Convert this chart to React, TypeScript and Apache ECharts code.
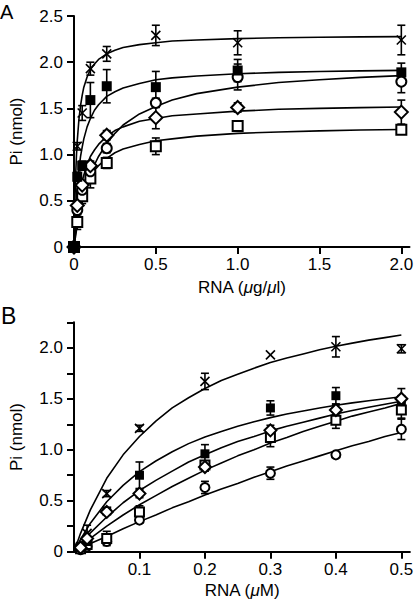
import React, { useEffect, useRef } from 'react';
import * as echarts from 'echarts';

const FONT = '"Liberation Sans", Arial, Helvetica, sans-serif';

// ---------- Panel A data (RNA µg/µl) ----------
const xA = [0, 0.02, 0.05, 0.1, 0.2, 0.5, 1.0, 2.0];
const crossA = [0, 1.09, 1.45, 1.93, 2.09, 2.29, 2.21, 2.24];
const crossAErr = [0, 0.04, 0.08, 0.07, 0.08, 0.11, 0.13, 0.16];
const filledA = [0, 0.76, 0.88, 1.59, 1.74, 1.73, 1.91, 1.89];
const filledAErr = [0, 0.05, 0.05, 0.19, 0.18, 0.17, 0.12, 0.1];
const circleA = [0, 0.4, 0.62, 0.82, 1.07, 1.56, 1.84, 1.79];
const circleAErr = [0, 0.05, 0, 0, 0.05, 0.05, 0.14, 0.12];
const diamondA = [0, 0.45, 0.67, 0.88, 1.21, 1.4, 1.51, 1.46];
const diamondAErr = [0, 0, 0.05, 0.05, 0.05, 0.12, 0.05, 0.13];
const squareA = [0, 0.27, 0.55, 0.74, 0.91, 1.09, 1.31, 1.27];
const squareAErr = [0, 0.08, 0.08, 0.1, 0.06, 0.09, 0.03, 0.03];

// fitted curves
const curveXA = [0, 0.005, 0.01, 0.015, 0.02, 0.03, 0.04, 0.05, 0.06, 0.08, 0.1, 0.125, 0.15, 0.2, 0.25, 0.3, 0.4, 0.5, 0.6, 0.75, 1.0, 1.25, 1.5, 1.75, 2.0];
const curveCrossA = [0, 0.46, 0.77, 0.99, 1.15, 1.38, 1.53, 1.64, 1.73, 1.84, 1.92, 1.98, 2.03, 2.09, 2.13, 2.16, 2.19, 2.21, 2.23, 2.24, 2.255, 2.264, 2.27, 2.274, 2.277];
const curveFilledA = [0, 0.22, 0.39, 0.53, 0.65, 0.84, 0.98, 1.08, 1.17, 1.3, 1.39, 1.48, 1.54, 1.63, 1.68, 1.72, 1.77, 1.81, 1.83, 1.85, 1.875, 1.89, 1.9, 1.906, 1.912];
const curveCircleA = [0, 0.06, 0.12, 0.18, 0.23, 0.32, 0.41, 0.49, 0.56, 0.68, 0.78, 0.89, 0.98, 1.12, 1.23, 1.32, 1.44, 1.52, 1.59, 1.66, 1.73, 1.78, 1.81, 1.836, 1.855];
const curveDiamondA = [0, 0.12, 0.22, 0.31, 0.39, 0.52, 0.62, 0.71, 0.78, 0.89, 0.98, 1.05, 1.11, 1.2, 1.26, 1.3, 1.36, 1.39, 1.42, 1.44, 1.47, 1.49, 1.5, 1.508, 1.515];
const curveSquareA = [0, 0.08, 0.16, 0.22, 0.28, 0.38, 0.46, 0.53, 0.59, 0.68, 0.75, 0.83, 0.88, 0.96, 1.02, 1.06, 1.11, 1.15, 1.17, 1.2, 1.23, 1.245, 1.257, 1.266, 1.272];

const xTicksA = [0, 0.5, 1.0, 1.5, 2.0];

// ---------- Panel B data (RNA µM) ----------
const xB = [0.01, 0.02, 0.05, 0.1, 0.2, 0.3, 0.4, 0.5];
const crossB = [0.05, 0.18, 0.57, 1.21, 1.67, 1.93, 2.01, 1.99];
const crossBErr = [0, 0.08, 0.03, 0.03, 0.08, 0, 0.1, 0.04];
const filledB = [0.04, 0.1, 0.4, 0.75, 0.96, 1.41, 1.53, 1.48];
const filledBErr = [0, 0, 0, 0.13, 0.09, 0.07, 0.08, 0.05];
const diamondB = [0.04, 0.13, 0.39, 0.57, 0.83, 1.19, 1.39, 1.5];
const diamondBErr = [0, 0, 0, 0.04, 0.04, 0.05, 0.05, 0.1];
const squareB = [0.03, 0.07, 0.13, 0.39, 0.85, 1.12, 1.29, 1.39];
const squareBErr = [0, 0.03, 0.07, 0.06, 0.04, 0.09, 0.08, 0.08];
const circleB = [0.02, 0.05, 0.1, 0.31, 0.63, 0.77, 0.95, 1.2];
const circleBErr = [0, 0, 0, 0.03, 0.06, 0.06, 0.02, 0.1];

const curveXB = [0, 0.01, 0.025, 0.05, 0.075, 0.1, 0.125, 0.15, 0.175, 0.2, 0.225, 0.25, 0.275, 0.3, 0.325, 0.35, 0.375, 0.4, 0.425, 0.45, 0.475, 0.5];
const curveCrossB = [0, 0.18, 0.41, 0.72, 0.95, 1.13, 1.28, 1.41, 1.51, 1.6, 1.68, 1.74, 1.8, 1.855, 1.9, 1.94, 1.98, 2.015, 2.046, 2.075, 2.1, 2.125];
const curveFilledB = [0, 0.12, 0.28, 0.49, 0.65, 0.785, 0.89, 0.98, 1.06, 1.125, 1.18, 1.23, 1.275, 1.315, 1.35, 1.38, 1.41, 1.436, 1.46, 1.48, 1.5, 1.52];
const curveDiamondB = [0, 0.08, 0.185, 0.34, 0.48, 0.6, 0.7, 0.79, 0.88, 0.95, 1.02, 1.08, 1.13, 1.185, 1.23, 1.27, 1.31, 1.35, 1.385, 1.417, 1.447, 1.475];
const curveSquareB = [0, 0.05, 0.13, 0.25, 0.36, 0.46, 0.55, 0.64, 0.72, 0.8, 0.87, 0.94, 1.0, 1.067, 1.12, 1.18, 1.23, 1.28, 1.33, 1.37, 1.41, 1.455];
const curveCircleB = [0, 0.03, 0.08, 0.15, 0.225, 0.295, 0.36, 0.43, 0.49, 0.555, 0.615, 0.67, 0.73, 0.784, 0.84, 0.89, 0.94, 0.99, 1.04, 1.08, 1.13, 1.17];

const xTicksB = [0.1, 0.2, 0.3, 0.4, 0.5];

// ---------- helpers ----------
const pairs = (xs: number[], ys: number[]) => xs.map((x, i) => [x, ys[i]]);
const errs = (xs: number[], ys: number[], es: number[]) =>
  xs.map((x, i) => [x, ys[i], es[i]]).filter((d) => d[2] > 0);

const LW = 1.6;
const lineStyle = { stroke: '#000', lineWidth: LW };

const errorRender = (_p: any, api: any) => {
  const x = api.value(0);
  const y = api.value(1);
  const e = api.value(2);
  const t = api.coord([x, y + e]);
  const b = api.coord([x, Math.max(0, y - e)]);
  const hw = 4;
  return {
    type: 'group',
    children: [
      { type: 'line', shape: { x1: t[0], y1: t[1], x2: b[0], y2: b[1] }, style: lineStyle },
      { type: 'line', shape: { x1: t[0] - hw, y1: t[1], x2: t[0] + hw, y2: t[1] }, style: lineStyle },
      { type: 'line', shape: { x1: b[0] - hw, y1: b[1], x2: b[0] + hw, y2: b[1] }, style: lineStyle },
    ],
  };
};

const crossRender = (_p: any, api: any) => {
  const c = api.coord([api.value(0), api.value(1)]);
  const r = 4.5;
  return {
    type: 'group',
    children: [
      { type: 'line', shape: { x1: c[0] - r, y1: c[1] - r, x2: c[0] + r, y2: c[1] + r }, style: lineStyle },
      { type: 'line', shape: { x1: c[0] - r, y1: c[1] + r, x2: c[0] + r, y2: c[1] - r }, style: lineStyle },
    ],
  };
};

const curve = (idx: number, xs: number[], ys: number[]) => ({
  type: 'line',
  xAxisIndex: idx,
  yAxisIndex: idx,
  data: pairs(xs, ys),
  showSymbol: false,
  symbol: 'none',
  smooth: false,
  silent: true,
  z: 2,
  lineStyle: { color: '#000', width: LW },
});

const markers = (idx: number, xs: number[], ys: number[], symbol: string, size: number) => ({
  type: 'scatter',
  xAxisIndex: idx,
  yAxisIndex: idx,
  data: pairs(xs, ys),
  symbol,
  symbolSize: size,
  clip: false,
  silent: true,
  z: 5,
  itemStyle: { color: '#000', borderColor: '#000', borderWidth: symbol.startsWith('empty') ? 1.7 : 0, opacity: 1 },
});

const errorSeries = (idx: number, data: number[][]) => ({
  type: 'custom',
  xAxisIndex: idx,
  yAxisIndex: idx,
  data,
  renderItem: errorRender,
  clip: false,
  silent: true,
  z: 3,
});

const crossSeries = (idx: number, xs: number[], ys: number[]) => ({
  type: 'custom',
  xAxisIndex: idx,
  yAxisIndex: idx,
  data: pairs(xs, ys),
  renderItem: crossRender,
  clip: false,
  silent: true,
  z: 5,
});

const fmt = (v: number) => (v === 0 ? '0' : v.toFixed(1));

const axisLine = { show: true, lineStyle: { color: '#000', width: 2 } };
const tickStyle = { color: '#000', width: 2 };
const labelBase = { color: '#000', fontSize: 17, fontFamily: FONT };
const nameStyle = {
  color: '#000',
  fontSize: 17,
  fontFamily: FONT,
  rich: { mu: { fontStyle: 'italic', fontSize: 17, fontFamily: FONT, color: '#000' } },
};

const option: any = {
  animation: false,
  backgroundColor: '#fff',
  grid: [
    { left: 68, top: 16, width: 344.4, height: 231 },
    { left: 67, top: 322.3, width: 344.7, height: 229.4 },
  ],
  xAxis: [
    {
      type: 'value',
      gridIndex: 0,
      min: 0,
      max: 2.05,
      axisLine,
      splitLine: { show: false },
      axisTick: { show: true, length: 7, lineStyle: tickStyle, customValues: xTicksA },
      axisLabel: { ...labelBase, margin: 9, customValues: xTicksA, formatter: fmt },
      name: 'RNA ({mu|μ}g/{mu|μ}l)',
      nameLocation: 'middle',
      nameGap: 32,
      nameTextStyle: nameStyle,
    },
    {
      type: 'value',
      gridIndex: 1,
      min: 0,
      max: 0.513,
      axisLine,
      splitLine: { show: false },
      axisTick: { show: true, length: 7, lineStyle: tickStyle, customValues: xTicksB },
      axisLabel: { ...labelBase, margin: 9, customValues: xTicksB, formatter: fmt },
      name: 'RNA ({mu|μ}M)',
      nameLocation: 'middle',
      nameGap: 30,
      nameTextStyle: nameStyle,
    },
  ],
  yAxis: [
    {
      type: 'value',
      gridIndex: 0,
      min: 0,
      max: 2.5,
      interval: 0.5,
      axisLine,
      splitLine: { show: false },
      axisTick: { show: true, length: 7, lineStyle: tickStyle },
      axisLabel: { ...labelBase, margin: 11, formatter: fmt },
      name: 'Pi (nmol)',
      nameLocation: 'middle',
      nameGap: 49,
      nameTextStyle: nameStyle,
    },
    {
      type: 'value',
      gridIndex: 1,
      min: 0,
      max: 2.25,
      interval: 0.25,
      axisLine,
      splitLine: { show: false },
      axisTick: { show: true, length: 7, lineStyle: tickStyle },
      axisLabel: {
        ...labelBase,
        margin: 11,
        formatter: (v: number) => (Math.abs(v * 2 - Math.round(v * 2)) < 1e-6 ? fmt(v) : ''),
      },
      name: 'Pi (nmol)',
      nameLocation: 'middle',
      nameGap: 49,
      nameTextStyle: nameStyle,
    },
  ],
  graphic: [
    { type: 'text', left: 0, top: 2, style: { text: 'A', fontSize: 20, fontFamily: FONT, fill: '#000' } },
    { type: 'text', left: 1, top: 304, style: { text: 'B', fontSize: 23, fontFamily: FONT, fill: '#000' } },
  ],
  series: [
    // Panel A curves
    curve(0, curveXA, curveCrossA),
    curve(0, curveXA, curveFilledA),
    curve(0, curveXA, curveCircleA),
    curve(0, curveXA, curveDiamondA),
    curve(0, curveXA, curveSquareA),
    // Panel A error bars
    errorSeries(0, [
      ...errs(xA, crossA, crossAErr),
      ...errs(xA, filledA, filledAErr),
      ...errs(xA, circleA, circleAErr),
      ...errs(xA, diamondA, diamondAErr),
      ...errs(xA, squareA, squareAErr),
    ]),
    // Panel A markers
    markers(0, xA, squareA, 'emptyRect', 10),
    markers(0, xA, circleA, 'emptyCircle', 10),
    markers(0, xA, diamondA, 'emptyDiamond', 13),
    crossSeries(0, xA, crossA),
    markers(0, xA, filledA, 'rect', 10),
    // Panel B curves
    curve(1, curveXB, curveCrossB),
    curve(1, curveXB, curveFilledB),
    curve(1, curveXB, curveDiamondB),
    curve(1, curveXB, curveSquareB),
    curve(1, curveXB, curveCircleB),
    // Panel B error bars
    errorSeries(1, [
      ...errs(xB, crossB, crossBErr),
      ...errs(xB, filledB, filledBErr),
      ...errs(xB, diamondB, diamondBErr),
      ...errs(xB, squareB, squareBErr),
      ...errs(xB, circleB, circleBErr),
    ]),
    // Panel B markers
    markers(1, xB, circleB, 'emptyCircle', 9),
    markers(1, xB, squareB, 'emptyRect', 9),
    markers(1, xB, filledB, 'rect', 9),
    markers(1, xB, diamondB, 'emptyDiamond', 12),
    crossSeries(1, xB, crossB),
  ],
};

export default function App() {
  const ref = useRef<HTMLDivElement>(null);
  useEffect(() => {
    const chart = echarts.init(ref.current!, null, { renderer: 'svg' });
    chart.setOption(option);
    return () => chart.dispose();
  }, []);
  return (
    <div
      ref={ref}
      style={{ position: 'absolute', left: 0, top: 0, width: 416, height: 606, background: '#fff' }}
    />
  );
}
